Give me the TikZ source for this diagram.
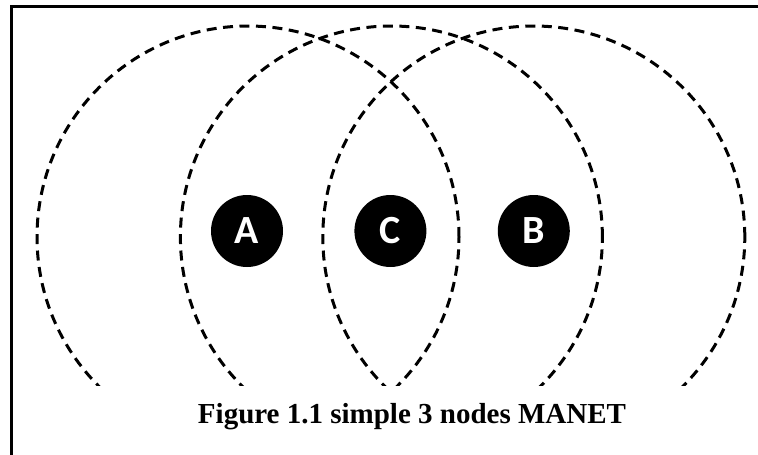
\documentclass[tikz,border=0pt]{standalone}
\usepackage{fontspec}
\setmainfont{Liberation Serif}
\newfontfamily\nodefont{Carlito}
\usetikzlibrary{positioning}

\begin{document}
\begin{tikzpicture}[x=1pt,y=-1pt,
  mnode/.style={circle,fill=black,text=white,minimum size=72pt,inner sep=0pt,
                font=\nodefont\fontsize{40}{40}\selectfont\bfseries},
  txrange/.style={dash pattern=on 10pt off 6.5pt,line width=3pt},
  frame/.style={line width=3pt}]
  \useasboundingbox (0,0) rectangle (758,455);
  \draw[frame] (11,455) -- (11,6) -- (758,6);
  % the three nodes
  \node[mnode] (A) at (247,231) {A};
  \node[mnode,right=71pt of A] (C) {C};
  \node[mnode,right=71pt of C] (B) {B};
  % transmission ranges, cut above the caption
  \begin{scope}
    \clip (0,0) rectangle (758,385);
    \draw[txrange] ([xshift=1pt,yshift=-6pt]A.center) circle[radius=211pt];
    \draw[txrange] ([xshift=1pt,yshift=-6pt]C.center) circle[radius=211pt];
    \draw[txrange] ([yshift=-6pt]B.center) circle[radius=211pt];
  \end{scope}
  \node[font=\fontsize{29}{29}\selectfont\bfseries,anchor=base,inner sep=0pt] (cap)
       at (412,423) {Figure 1.1 simple 3 nodes MANET};
\end{tikzpicture}
\end{document}
